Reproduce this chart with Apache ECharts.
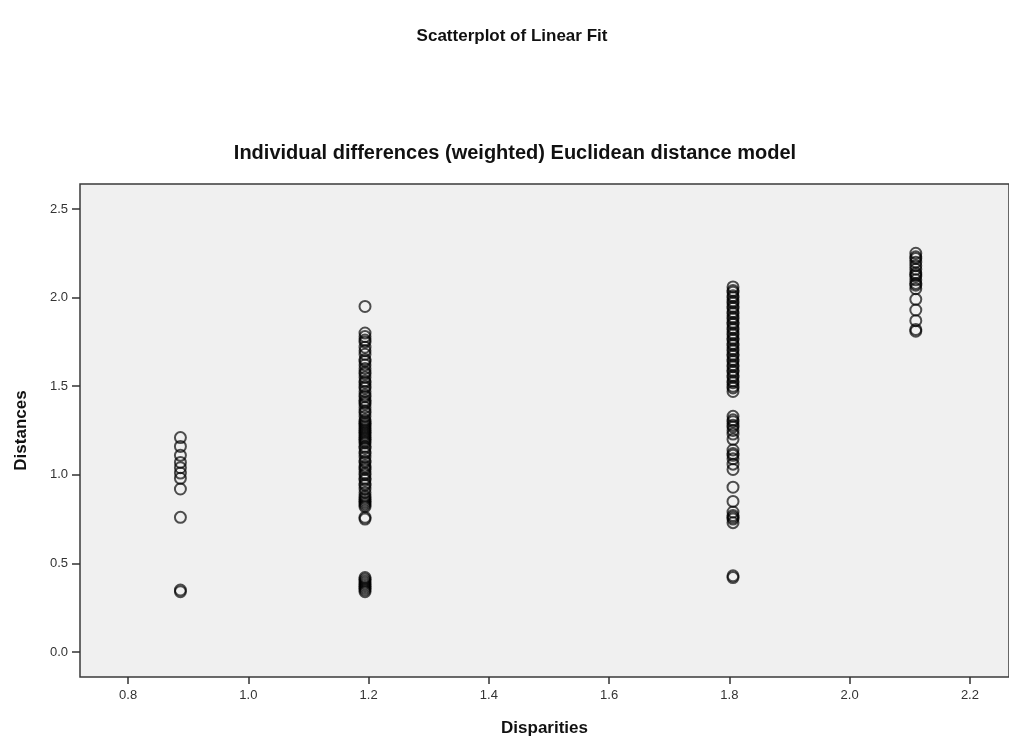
<!DOCTYPE html>
<html>

<head>
  <meta charset="utf-8">
  <script src="https://cdn.jsdelivr.net/npm/echarts@6/dist/echarts.min.js"></script>
  <title>Scatterplot of Linear Fit</title>
  <style type="text/css">
    html,
    body {
      margin: 0;
      background-color: #fff;
    }

    #main {
      width: 1009px;
      height: 744px;
    }
  </style>
</head>

<body>
  <div id="main"></div>

  <script type="text/javascript">
    // disparity levels (x) and the distances read at each level (y)
    var disparities = [0.887, 1.194, 1.806, 2.11];

    var distances1 = [1.21, 1.16, 1.11, 1.07, 1.04, 1.01, 0.98, 0.92, 0.76, 0.35, 0.34];

    var distances2 = [1.95, 1.80, 1.78, 1.76, 1.75, 1.72, 1.70, 1.68, 1.65, 1.64, 1.62, 1.60,
      1.58, 1.57, 1.55, 1.53, 1.52, 1.50, 1.49, 1.47, 1.45, 1.44, 1.42, 1.41, 1.40, 1.38,
      1.36, 1.35, 1.33, 1.31, 1.30, 1.29, 1.28, 1.27, 1.26, 1.25, 1.24, 1.23, 1.22, 1.21,
      1.20, 1.19, 1.18, 1.16, 1.15, 1.13, 1.12, 1.10, 1.08, 1.07, 1.05, 1.04, 1.03, 1.01,
      1.00, 0.98, 0.97, 0.95, 0.94, 0.92, 0.90, 0.88, 0.87, 0.86, 0.85, 0.84, 0.83, 0.82,
      0.76, 0.75, 0.42, 0.41, 0.40, 0.39, 0.38, 0.37, 0.36, 0.35, 0.34];

    var distances3 = [2.06, 2.04, 2.03, 2.01, 2.00, 1.98, 1.97, 1.95, 1.94, 1.92, 1.91, 1.89,
      1.88, 1.86, 1.85, 1.83, 1.82, 1.80, 1.79, 1.77, 1.76, 1.74, 1.73, 1.71, 1.70, 1.68,
      1.67, 1.65, 1.64, 1.62, 1.61, 1.59, 1.58, 1.56, 1.55, 1.53, 1.52, 1.50, 1.49, 1.47,
      1.33, 1.31, 1.30, 1.28, 1.27, 1.25, 1.23, 1.20, 1.14, 1.12, 1.11, 1.09, 1.06, 1.03,
      0.93, 0.85, 0.79, 0.77, 0.76, 0.75, 0.73, 0.43, 0.42];

    var distances4 = [2.25, 2.23, 2.22, 2.20, 2.18, 2.16, 2.14, 2.13, 2.12, 2.10, 2.08, 2.07,
      2.05, 1.99, 1.93, 1.87, 1.82, 1.81];

    var xTicks = [0.8, 1.0, 1.2, 1.4, 1.6, 1.8, 2.0, 2.2];
    var yTicks = [0.0, 0.5, 1.0, 1.5, 2.0, 2.5];

    var columns = [distances1, distances2, distances3, distances4];
    var points = [];
    for (var i = 0; i < columns.length; i++) {
      for (var j = 0; j < columns[i].length; j++) {
        points.push([disparities[i], columns[i][j]]);
      }
    }

    var myChart = echarts.init(document.getElementById('main'), null, { renderer: 'canvas' });

    var labelStyle = {
      color: '#333',
      fontSize: 13,
      fontFamily: 'Liberation Sans, Arial, sans-serif'
    };

    var option = {
      animation: false,
      title: [{
        text: 'Scatterplot of Linear Fit',
        left: 507,
        top: 23,
        textAlign: 'center',
        textStyle: {
          color: '#111',
          fontSize: 17,
          fontWeight: 'bold',
          fontFamily: 'Liberation Sans, Arial, sans-serif'
        }
      }, {
        text: 'Individual differences (weighted) Euclidean distance model',
        left: 510,
        top: 138,
        textAlign: 'center',
        textStyle: {
          color: '#111',
          fontSize: 20,
          fontWeight: 'bold',
          fontFamily: 'Liberation Sans, Arial, sans-serif'
        }
      }],
      grid: {
        left: 80,
        right: 0,
        top: 184,
        bottom: 67,
        show: true,
        backgroundColor: '#f0f0f0',
        borderColor: '#3a3a3a',
        borderWidth: 1.5
      },
      xAxis: {
        type: 'value',
        min: 0.72,
        max: 2.265,
        name: 'Disparities',
        nameLocation: 'middle',
        nameGap: 43,
        nameTextStyle: {
          color: '#111',
          fontSize: 17,
          fontWeight: 'bold',
          fontFamily: 'Liberation Sans, Arial, sans-serif'
        },
        axisLine: { show: false, onZero: false },
        splitLine: { show: false },
        axisTick: {
          show: true,
          length: 7,
          customValues: xTicks,
          lineStyle: { color: '#333', width: 1.5 }
        },
        axisLabel: Object.assign({
          margin: 12,
          customValues: xTicks,
          formatter: function (v) { return v.toFixed(1); }
        }, labelStyle)
      },
      yAxis: {
        type: 'value',
        min: -0.141,
        max: 2.641,
        name: 'Distances',
        nameLocation: 'middle',
        nameGap: 50,
        nameRotate: 90,
        nameTextStyle: {
          color: '#111',
          fontSize: 17,
          fontWeight: 'bold',
          fontFamily: 'Liberation Sans, Arial, sans-serif'
        },
        axisLine: { show: false, onZero: false },
        splitLine: { show: false },
        axisTick: {
          show: true,
          length: 8,
          customValues: yTicks,
          lineStyle: { color: '#333', width: 1.5 }
        },
        axisLabel: Object.assign({
          margin: 12,
          customValues: yTicks,
          formatter: function (v) { return v.toFixed(1); }
        }, labelStyle)
      },
      series: [{
        type: 'scatter',
        symbol: 'circle',
        symbolSize: 11,
        data: points,
        itemStyle: {
          color: 'transparent',
          borderColor: 'rgba(0,0,0,0.85)',
          borderWidth: 2
        }
      }]
    };

    myChart.setOption(option);
  </script>
</body>

</html>
